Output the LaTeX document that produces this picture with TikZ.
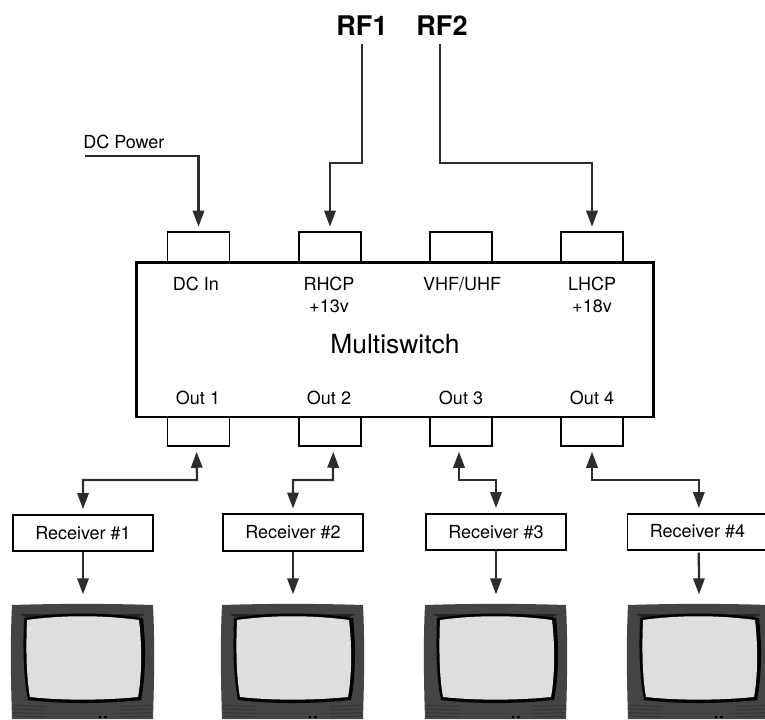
\documentclass[tikz,border=0pt]{standalone}
\usepackage{fontspec}
\setmainfont{TeX Gyre Heros}
\usepackage{tikz}
\usetikzlibrary{arrows.meta,positioning}
\definecolor{linegray}{RGB}{45,45,45}
\definecolor{tvbody}{RGB}{68,68,68}
\definecolor{tvscreen}{RGB}{222,222,222}
\tikzstyle{portbox}=[rectangle,draw=black,line width=1.4pt,fill=white,minimum width=46.5pt,minimum height=22pt,inner sep=0pt]
\tikzstyle{recvbox}=[rectangle,draw=black,line width=1.4pt,fill=white,minimum width=105pt,minimum height=27.5pt,inner sep=0pt,font=\fontsize{13.5}{15}\selectfont]
\tikzstyle{lbl}=[inner sep=0pt,align=center,font=\fontsize{13.5}{17}\selectfont]
\tikzstyle{rflbl}=[inner sep=0pt,font=\bfseries\fontsize{20.3}{22}\selectfont]
\tikzstyle{arrow}=[-{Triangle[length=12pt,width=8.5pt]},line width=1.7pt,draw=linegray]
\tikzstyle{twoway}=[{Triangle[length=12pt,width=8.5pt]}-{Triangle[length=12pt,width=8.5pt]},line width=1.7pt,draw=linegray]
\tikzset{
  tvset/.pic={
    \fill[tvbody] (0,0) .. controls (47,-1.5) and (94,-1.5) .. (141,0)
      .. controls (143,40) and (142,80) .. (141,114) -- (0,114)
      .. controls (-1,80) and (-2,40) .. (0,0) -- cycle;
    \fill[black!85] (7,9) -- (134,9) -- (125,13) -- (16,13) -- cycle;
    \fill[black] (12,13) .. controls (50,7) and (90,7) .. (131,13)
      .. controls (134,40) and (134,70) .. (129,95)
      .. controls (90,99) and (50,99) .. (16,95)
      .. controls (11,70) and (11,40) .. (12,13) -- cycle;
    \fill[tvscreen] (15,15) .. controls (50,10) and (90,10) .. (127,15)
      .. controls (130,40) and (130,70) .. (126,92)
      .. controls (90,95.5) and (50,95.5) .. (18,92)
      .. controls (14,70) and (14,40) .. (15,15) -- cycle;
    \foreach \vy in {100.5,104,107.5,111}{
      \draw[black!80,line width=.6pt] (1,\vy) -- (35,\vy+1);
      \draw[black!80,line width=.6pt] (108,\vy+1) -- (140,\vy);
    }
    \fill[black] (88,112) circle (1.5) (93.5,112) circle (1.5);
  }
}
\begin{document}
\begin{tikzpicture}[x=0.75pt,y=-0.75pt]
  \useasboundingbox (0,0) rectangle (765,719);

  \node[rectangle,draw=black,line width=2pt,minimum width=388pt,minimum height=116pt,inner sep=0pt] (switch) at (395,339.5) {};
  \node[inner sep=0pt,font=\fontsize{19.8}{22}\selectfont] (title) at (395,344) {Multiswitch};

  % ports on top of the box
  \node[portbox] (dcin) at (198.5,247) {};
  \node[portbox] (rhcp) at (330,247) {};
  \node[portbox] (vhf) at (461,247) {};
  \node[portbox] (lhcp) at (592,247) {};
  \node[portbox] (out1) at (198.5,431.5) {};
  \node[portbox] (out2) at (330,431.5) {};
  \node[portbox] (out3) at (461,431.5) {};
  \node[portbox] (out4) at (592,431.5) {};

  \node[lbl] (ldc) at (196,284) {DC In};
  \node[lbl] (lrhcp) at (329,295) {RHCP\\+13v};
  \node[lbl] (lvhf) at (462,284) {VHF/UHF};
  \node[lbl] (llhcp) at (592,295) {LHCP\\+18v};
  \node[lbl] (lo1) at (198,398) {Out 1};
  \node[lbl] (lo2) at (329,398) {Out 2};
  \node[lbl] (lo3) at (461,398) {Out 3};
  \node[lbl] (lo4) at (592,398) {Out 4};

  \node[rflbl] (rf1) at (362,26) {RF1};
  \node[rflbl] (rf2) at (442,26) {RF2};
  \node[lbl,anchor=west] (dcp) at (83,142) {DC Power};
  \coordinate (dcstart) at (85,156);

  \node[recvbox] (rx1) at (83,533) {Receiver \#1};
  \node[recvbox] (rx2) at (293,532.5) {Receiver \#2};
  \node[recvbox] (rx3) at (496,532) {Receiver \#3};
  \node[recvbox] (rx4) at (697.5,532) {\raisebox{1pt}{Receiver \#4}};

  % televisions
  \pic at (12,605) {tvset};
  \pic at (222,605) {tvset};
  \pic at (425,605) {tvset};
  \pic at (628,605) {tvset};
  \coordinate (tv1) at (83,605);
  \coordinate (tv2) at (293,605);
  \coordinate (tv3) at (496,605);
  \coordinate (tv4) at (699,605);

  \draw[arrow,shorten >=3.5pt] (dcstart) -| (dcin.north);
  \draw[arrow,shorten <=6pt,shorten >=3.5pt] (rf1.south) -- (362,163) -| (rhcp.north);
  \draw[arrow,shorten <=6pt,shorten >=3.5pt] ([xshift=-1.5pt]rf2.south) -- (440,163) -| (lhcp.north);

  \draw[twoway,shorten <=3.5pt,shorten >=3.5pt] ([xshift=-1.5pt]out1.south) -- (197,480) -| (rx1.north);
  \draw[twoway,shorten <=3.5pt,shorten >=3.5pt] ([xshift=2.5pt]out2.south) -- (333,480) -| (rx2.north);
  \draw[twoway,shorten <=3.5pt,shorten >=3.5pt] ([xshift=-1.5pt]out3.south) -- (459,480) -| (rx3.north);
  \draw[twoway,shorten <=3.5pt,shorten >=3.5pt] (out4.south) -- (592,480) -| ([xshift=1pt]rx4.north);

  \draw[arrow,shorten >=8pt] (rx1.south) -- (tv1);
  \draw[arrow,shorten >=8pt] (rx2.south) -- (tv2);
  \draw[arrow,shorten >=8pt] (rx3.south) -- (tv3);
  \draw[arrow,shorten >=8pt,shorten <=1pt] ([xshift=1pt]rx4.south) -- (tv4);
\end{tikzpicture}
\end{document}
